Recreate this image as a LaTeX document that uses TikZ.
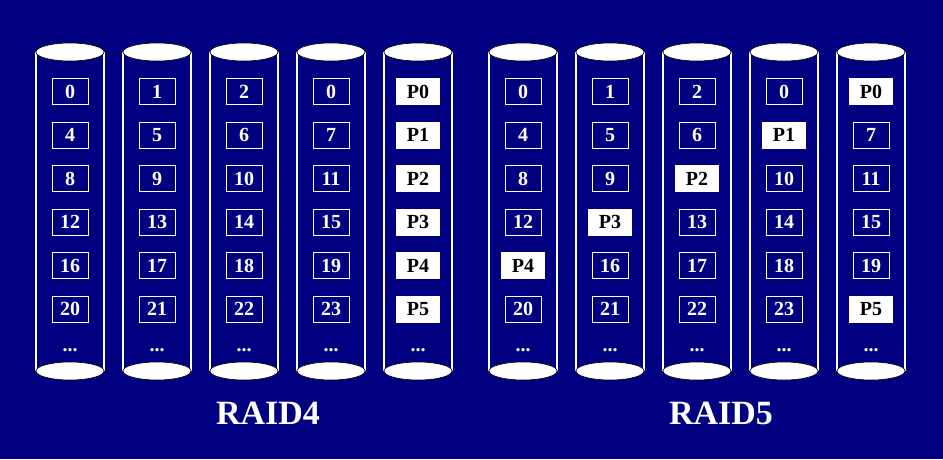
\documentclass[tikz,border=0pt]{standalone}
\usepackage{fontspec}
\setmainfont{Liberation Serif}
\usepackage{xcolor}
\usepackage{tikz}
\usetikzlibrary{positioning}
\definecolor{navy}{HTML}{000080}
\tikzset{
  side/.style={draw=white,line width=1.1pt},
  lid/.style={fill=white,draw=black,line width=0.6pt},
  blk/.style={draw=white,line width=0.8pt,text=white,minimum width=36pt,minimum height=26pt,inner sep=0pt,font=\fontsize{20}{20}\selectfont\bfseries},
  par/.style={fill=white,text=black,minimum width=44pt,minimum height=27pt,inner sep=0pt,font=\fontsize{20}{20}\selectfont\bfseries},
  more/.style={text=white,inner sep=0pt,font=\fontsize{20}{20}\selectfont\bfseries},
  title/.style={text=white,inner sep=0pt,font=\fontsize{34}{34}\selectfont\bfseries}
}
% one disk: name, centre x, list of label/style
\newcommand{\disk}[3]{%
  \draw[side] (#2-34,52) -- (#2-34,371) (#2+34,52) -- (#2+34,371);
  \draw[lid] (#2,371) ellipse (34pt and 9pt);
  \draw[lid] (#2,52) ellipse (34pt and 9pt);
  \foreach \t/\s [count=\i] in {#3}
    \node[\s] (#1-\i) at (#2,48+43.5*\i) {\t};
  \node[more] (#1-dots) at (#2,350) {...};}

\begin{document}
\begin{tikzpicture}[x=1pt,y=-1pt]
  \fill[navy] (0,0) rectangle (943,459);
  \useasboundingbox (0,0) rectangle (943,459);
  % RAID4
  \disk{a1}{70}{0/blk,4/blk,8/blk,12/blk,16/blk,20/blk}
  \disk{a2}{157}{1/blk,5/blk,9/blk,13/blk,17/blk,21/blk}
  \disk{a3}{244}{2/blk,6/blk,10/blk,14/blk,18/blk,22/blk}
  \disk{a4}{331}{0/blk,7/blk,11/blk,15/blk,19/blk,23/blk}
  \disk{a5}{418}{P0/par,P1/par,P2/par,P3/par,P4/par,P5/par}
  % RAID5
  \disk{b1}{523}{0/blk,4/blk,8/blk,12/blk,P4/par,20/blk}
  \disk{b2}{610}{1/blk,5/blk,9/blk,P3/par,16/blk,21/blk}
  \disk{b3}{697}{2/blk,6/blk,P2/par,13/blk,17/blk,22/blk}
  \disk{b4}{784}{0/blk,P1/par,10/blk,14/blk,18/blk,23/blk}
  \disk{b5}{871}{P0/par,7/blk,11/blk,15/blk,19/blk,P5/par}
  \node[title] (raid4) at (268,413) {RAID4};
  \node[title] (raid5) at (721,413) {RAID5};
\end{tikzpicture}
\end{document}
